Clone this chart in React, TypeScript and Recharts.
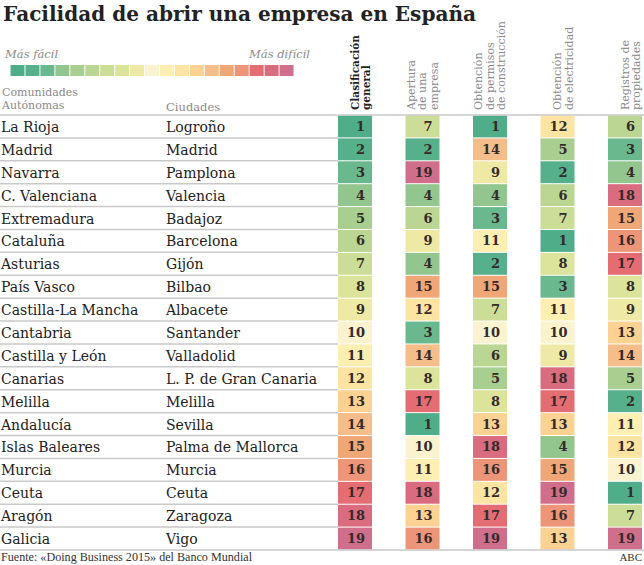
import React from 'react';
import { ScatterChart, Scatter, XAxis, YAxis, BarChart, Bar, Cell } from 'recharts';

// datos
const COMUNIDADES = [
  'La Rioja', 'Madrid', 'Navarra', 'C. Valenciana', 'Extremadura', 'Cataluña', 'Asturias',
  'País Vasco', 'Castilla-La Mancha', 'Cantabria', 'Castilla y León', 'Canarias', 'Melilla',
  'Andalucía', 'Islas Baleares', 'Murcia', 'Ceuta', 'Aragón', 'Galicia',
];
const CIUDADES = [
  'Logroño', 'Madrid', 'Pamplona', 'Valencia', 'Badajoz', 'Barcelona', 'Gijón', 'Bilbao',
  'Albacete', 'Santander', 'Valladolid', 'L. P. de Gran Canaria', 'Melilla', 'Sevilla',
  'Palma de Mallorca', 'Murcia', 'Ceuta', 'Zaragoza', 'Vigo',
];
const GENERAL = [1, 2, 3, 4, 5, 6, 7, 8, 9, 10, 11, 12, 13, 14, 15, 16, 17, 18, 19];
const APERTURA = [7, 2, 19, 4, 6, 9, 4, 15, 12, 3, 14, 8, 17, 1, 10, 11, 18, 13, 16];
const PERMISOS = [1, 14, 9, 4, 3, 11, 2, 15, 7, 10, 6, 5, 8, 13, 18, 16, 12, 17, 19];
const ELECTRICIDAD = [12, 5, 2, 6, 7, 1, 8, 3, 11, 10, 9, 18, 17, 13, 4, 15, 19, 16, 13];
const REGISTROS = [6, 3, 4, 18, 15, 16, 17, 8, 9, 13, 14, 5, 2, 11, 12, 10, 1, 7, 19];

const COLUMNAS = [
  ['Clasificación', 'general'],
  ['Apertura', 'de una', 'empresa'],
  ['Obtención', 'de permisos', 'de construcción'],
  ['Obtención', 'de electricidad'],
  ['Registros de', 'propiedades'],
];
const LEYENDA = [1, 2, 3, 4, 5, 6, 7, 8, 9, 10, 11, 12, 13, 14, 15, 16, 17, 18, 19];

const PALETTE = [
  '#4fad8a', '#56b08b', '#6ab88e', '#93c68f', '#a8ce90', '#bbd692', '#ccdd97', '#dce49c',
  '#eee9a5', '#fbf3cf', '#fdeeb2', '#fde4a3', '#fbd292', '#f5bd89', '#f0a778', '#ec9578',
  '#e46c73', '#da6c80', '#cf6f8b',
];

const SERIF = '"DejaVu Serif", serif';
const W = 644;
const H = 565;
const TOP = 115;
const BOTTOM = 15;
const ROW_H = (H - TOP - BOTTOM) / COMUNIDADES.length;

const series = [GENERAL, APERTURA, PERMISOS, ELECTRICIDAD, REGISTROS].map((vals, col) =>
  vals.map((v, row) => ({ col, row, v }))
);

const CellShape = (props: any) => {
  const { cx, cy, payload } = props;
  return (
    <g>
      <rect x={cx - 17} y={cy - ROW_H / 2 + 0.5} width={34} height={ROW_H - 1} fill={PALETTE[payload.v - 1]} />
      <text x={cx + 10} y={cy + 4.5} textAnchor="end" fontFamily={SERIF} fontWeight="bold" fontSize={13} fill="#352a2a">
        {payload.v}
      </text>
    </g>
  );
};

const RowTick = (props: any) => {
  const { y, payload } = props;
  const i = payload.value;
  const last = i === COMUNIDADES.length - 1;
  return (
    <g>
      {i === 0 && <line x1={0} x2={W} y1={y - ROW_H / 2} y2={y - ROW_H / 2} stroke="#c9c9c9" strokeWidth={1.5} />}
      <line x1={0} x2={last ? W : 338} y1={y + ROW_H / 2} y2={y + ROW_H / 2} stroke="#c9c9c9" strokeWidth={1.5} />
      <text x={1} y={y + 5.5} fontFamily={SERIF} fontSize={14} fill="#222">{COMUNIDADES[i]}</text>
      <text x={166} y={y + 5.5} fontFamily={SERIF} fontSize={14} fill="#222">{CIUDADES[i]}</text>
    </g>
  );
};

const HeaderTick = (props: any) => {
  const { x, payload } = props;
  const lines = COLUMNAS[payload.value];
  const first = payload.value === 0;
  return (
    <g>
      {lines.map((t, k) => {
        const bx = x + 15 - (lines.length - 1 - k) * 11.5;
        return (
          <text key={k} x={bx} y={110} transform={`rotate(-90, ${bx}, 110)`} fontFamily={SERIF}
            fontSize={first ? 10.5 : 11} fontWeight={first ? 'bold' : 'normal'} fill={first ? '#222' : '#8a8a8a'}>
            {t}
          </text>
        );
      })}
    </g>
  );
};

export default function App() {
  return (
    <div style={{ position: 'relative', width: W, height: H, background: '#fff' }}>
      <style>{'body{margin:0}'}</style>
      <svg width={W} height={H} style={{ position: 'absolute', left: 0, top: 0 }}>
        <text x={3} y={21} fontFamily={SERIF} fontWeight="bold" fontSize={21} fill="#222" textLength={473} lengthAdjust="spacingAndGlyphs">
          Facilidad de abrir una empresa en España
        </text>
        <text x={5} y={58} fontFamily={SERIF} fontStyle="italic" fontSize={11.5} fill="#8a8a8a">Más fácil</text>
        <text x={310} y={58} textAnchor="end" fontFamily={SERIF} fontStyle="italic" fontSize={11.5} fill="#8a8a8a">Más difícil</text>
        <text x={2} y={96} fontFamily={SERIF} fontSize={11} fill="#8a8a8a">Comunidades</text>
        <text x={2} y={109} fontFamily={SERIF} fontSize={11} fill="#8a8a8a">Autónomas</text>
        <text x={166} y={111} fontFamily={SERIF} fontSize={11.5} fill="#8a8a8a">Ciudades</text>
        <text x={1} y={561} fontFamily='"Liberation Serif", serif' fontSize={12} fill="#333" textLength={251} lengthAdjust="spacingAndGlyphs">
          Fuente: «Doing Business 2015» del Banco Mundial
        </text>
        <text x={642} y={561} textAnchor="end" fontFamily='"Liberation Serif", serif' fontSize={11} fill="#333">ABC</text>
      </svg>
      <div style={{ position: 'absolute', left: 10, top: 65 }}>
        <BarChart width={284} height={11} data={LEYENDA.map((v) => ({ v, h: 1 }))} margin={{ top: 0, right: 0, bottom: 0, left: 0 }} barCategoryGap={0.5}>
          <XAxis dataKey="v" hide />
          <YAxis hide domain={[0, 1]} />
          <Bar dataKey="h" isAnimationActive={false}>
            {LEYENDA.map((v) => <Cell key={v} fill={PALETTE[v - 1]} />)}
          </Bar>
        </BarChart>
      </div>
      <div style={{ position: 'absolute', left: 0, top: 0 }}>
        <ScatterChart width={W} height={H} margin={{ top: 0, right: 0, bottom: BOTTOM, left: 0 }}>
          <XAxis type="number" dataKey="col" orientation="top" domain={[0, 4]} ticks={[0, 1, 2, 3, 4]}
            height={TOP} padding={{ left: 34, right: 19 }} axisLine={false} tickLine={false} tickSize={0}
            tick={<HeaderTick />} interval={0} />
          <YAxis type="number" dataKey="row" domain={[-0.5, 18.5]} reversed width={321} ticks={GENERAL.map((_, i) => i)}
            axisLine={false} tickLine={false} tickSize={0} tick={<RowTick />} interval={0} />
          {series.map((d, c) => (
            <Scatter key={c} data={d} shape={<CellShape />} isAnimationActive={false} />
          ))}
        </ScatterChart>
      </div>
    </div>
  );
}
